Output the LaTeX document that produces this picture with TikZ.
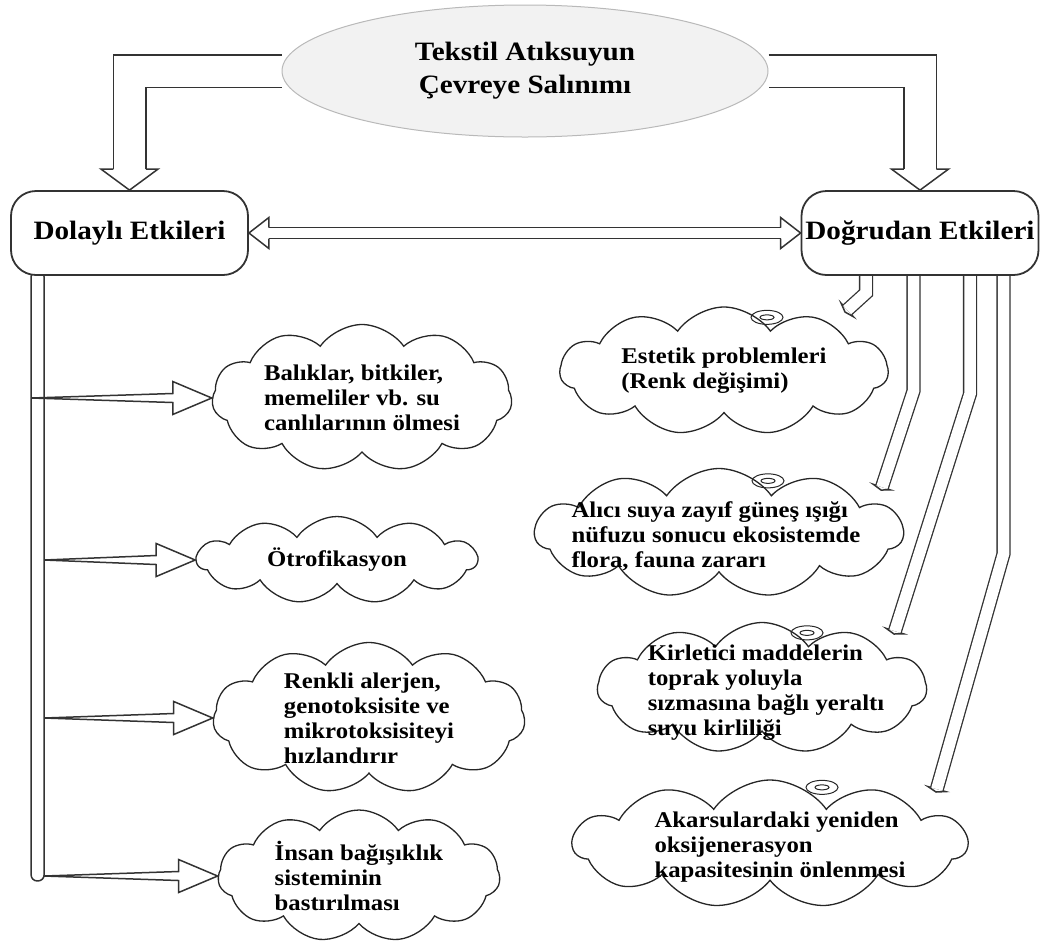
\documentclass[tikz,border=0pt]{standalone}
\usepackage{fontspec}
\setmainfont{Liberation Serif}[FakeStretch=1.1]
\usetikzlibrary{shapes.geometric,shapes.symbols,calc,backgrounds}

\tikzset{
  headtext/.style={font=\bfseries\fontsize{26.5}{33}\selectfont, align=center, inner sep=0pt},
  sourceell/.style={ellipse, draw=gray!55, line width=1pt, fill=gray!10,
    minimum width=486, minimum height=132, headtext},
  effectbox/.style={draw=black!80, line width=1.8pt, rounded corners=25pt, fill=white,
    minimum width=237, minimum height=84, headtext},
  cloudbox/.style={cloud, cloud puffs=11, cloud puff arc=110, draw=black!85,
    line width=1.3pt, fill=white, inner sep=0pt},
  cloudtext/.style={font=\bfseries\fontsize{22.5}{25}\selectfont, align=left, inner sep=0pt},
  headline/.style={draw=black!80, line width=1.5pt, line join=miter},
  bigshaft/.style={draw=black!80, line width=1.5pt, double=white, double distance=31pt},
  midshaft/.style={draw=black!80, line width=1.5pt, double=white, double distance=9.5pt},
  thinshaft/.style={draw=black!80, line width=1.3pt, double=white, double distance=11.5pt},
  barline/.style={draw=black!80, line width=1.5pt, fill=white}
}

% open arrow head: tip, point on shaft, half shaft, half wing, length
\newcommand{\openhead}[5]{%
  \coordinate (hb) at ($(#1)!#5!(#2)$);
  \draw[headline] ($(hb)!#3!90:(#1)$) -- ($(hb)!#4!90:(#1)$) -- (#1)
    -- ($(hb)!#4!-90:(#1)$) -- ($(hb)!#3!-90:(#1)$);
}
% tapered arrow from the bar: start, tip
\newcommand{\branch}[2]{%
  \coordinate (hb) at ($(#2)!39pt!(#1)$);
  \draw[headline, fill=white] (#1) -- ($(hb)!4.5pt!90:(#2)$) -- ($(hb)!16.5pt!90:(#2)$)
    -- (#2) -- ($(hb)!16.5pt!-90:(#2)$) -- ($(hb)!4.5pt!-90:(#2)$) -- cycle;
}

\begin{document}
\begin{tikzpicture}[x=1pt, y=-1pt]
    \useasboundingbox (0,0) rectangle (1040,943);

        % Kaynak
        \node[sourceell] (ell) at (525,71) {Tekstil Atıksuyun\\Çevreye Salınımı};

        % Etkiler
        \node[effectbox] (dol) at (129.5,233) {Dolaylı Etkileri};
        \node[effectbox] (dog) at (920,233) {Doğrudan Etkileri};

        % Dolayli etkiler
        \node[cloudbox, aspect=2.04, minimum width=300, minimum height=147] (c1) at (362,398) {};
        \node[cloudtext] (t1) at (c1) {Balıklar, bitkiler,\\memeliler vb. su\\canlılarının ölmesi};
        \node[cloudbox, aspect=3.2, minimum width=280, minimum height=87] (c2) at (337,560) {};
        \node[cloudtext] (t2) at (c2) {Ötrofikasyon};
        \node[cloudbox, aspect=2.07, minimum width=312, minimum height=151] (c3) at (369,718) {};
        \node[cloudtext] (t3) at (c3) {Renkli alerjen,\\genotoksisite ve\\mikrotoksisiteyi\\hızlandırır};
        \node[cloudbox, aspect=2.14, minimum width=282, minimum height=132] (c4) at (359,876) {};
        \node[cloudtext] (t4) at (c4) {İnsan bağışıklık\\sisteminin\\bastırılması};

        % Dogrudan etkiler
        \node[cloudbox, aspect=2.56, minimum width=328, minimum height=128] (c5) at (724,371) {};
        \node[cloudtext] (t5) at (c5) {Estetik problemleri\\(Renk değişimi)};
        \node[cloudbox, aspect=2.85, minimum width=368, minimum height=129] (c6) at (719,533) {};
        \node[cloudtext] (t6) at ($(c6)+(-3,3)$) {Alıcı suya zayıf güneş ışığı\\nüfuzu sonucu ekosistemde\\flora, fauna zararı};
        \node[cloudbox, aspect=2.5, minimum width=329, minimum height=131] (c7) at (762,688) {};
        \node[cloudtext] (t7) at ($(c7)+(4,5)$) {Kirletici maddelerin\\toprak yoluyla\\sızmasına bağlı yeraltı\\suyu kirliliği};
        \node[cloudbox, aspect=3.08, minimum width=394, minimum height=128] (c8) at (770,844) {};
        \node[cloudtext] (t8) at ($(c8)+(10,3)$) {Akarsulardaki yeniden\\oksijenerasyon\\kapasitesinin önlenmesi};

        % Bulut halkalari
        \foreach \c/\dx/\dy in {c5/43/11, c6/49/13, c7/45/11, c8/52/8} {
            \draw[black!85, line width=1pt] ($(\c.north)+(\dx,\dy)$) ellipse (16 and 7);
            \draw[black!85, line width=1pt] ($(\c.north)+(\dx,\dy)$) ellipse (7 and 2.5);
        }

        % Kaynaktan etkilere
        \coordinate (lk) at (dol.north |- ell.west);
        \coordinate (rk) at (dog.north |- ell.east);
        \begin{scope}[on background layer]
            \draw[bigshaft] (ell.west) -| ($(dol.north)+(0,-21)$);
            \draw[bigshaft] (ell.east) -| ($(dog.north)+(0,-21)$);
            \draw[midshaft] ($(dol.east)+(20,0)$) -- ($(dog.west)+(-20,0)$);
            \draw[barline, rounded corners=6pt] ($(dol.south west)+(21,-5)$) rectangle ($(dol.south west)+(34,605)$);
        \end{scope}
        \openhead{dol.north}{lk}{16.25pt}{28.5pt}{21pt}
        \openhead{dog.north}{rk}{16.25pt}{28.5pt}{21pt}
        \openhead{dol.east}{dog.west}{5.5pt}{15.5pt}{20pt}
        \openhead{dog.west}{dol.east}{5.5pt}{15.5pt}{20pt}

        % Dolayli oklar
        \coordinate (barL) at ($(dol.south west)+(21,0)$);
        \coordinate (barR) at ($(dol.south west)+(34,0)$);
        \coordinate (s1) at (barL |- c1.west);
        \coordinate (s2) at (barR |- c2.west);
        \coordinate (s3) at (barR |- c3.west);
        \coordinate (s4) at (barR |- c4.west);
        \branch{s1}{c1.west}
        \branch{s2}{c2.west}
        \branch{s3}{c3.west}
        \branch{s4}{c4.west}

        % Dogrudan oklar
        \foreach \n/\dx/\dy/\ex/\ey in {5/-54/17/121/-59, 6/-6.5/115/162/-43, 7/50/118/132/-54, 8/83.5/278/166/-52} {
            \coordinate (s\n) at ($(dog.south)+(\dx,0)$);
            \coordinate (b\n) at ($(dog.south)+(\dx,\dy)$);
            \coordinate (e\n) at ($(c\n)+(\ex,\ey)$);
            \openhead{e\n}{b\n}{6.4pt}{9pt}{3pt}
            \begin{scope}[on background layer]
                \draw[thinshaft] (s\n) -- (b\n) -- (hb);
            \end{scope}
        }

\end{tikzpicture}
\end{document}
